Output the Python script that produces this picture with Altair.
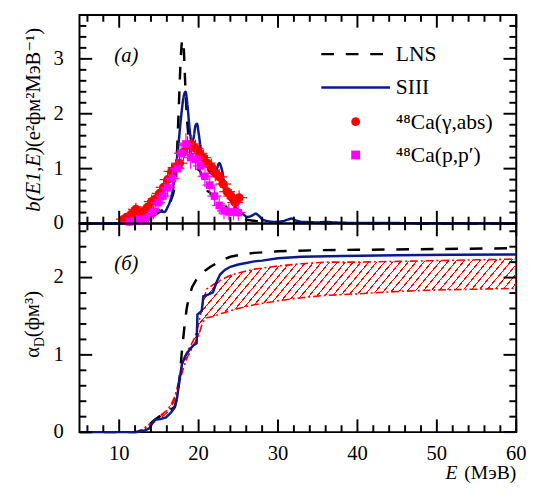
import math
import altair as alt
import pandas as pd

# ---------------- data : panel (a) strength functions ----------------
lns_a_E = [5, 10, 11, 12, 13, 14, 15, 15.5, 16, 16.5, 17, 17.25, 17.5, 17.75, 17.95, 18.1, 18.3, 18.5,
           18.75, 19.0, 19.4, 19.8, 20.2, 20.6, 21.0, 21.5, 22.0, 22.5, 23.0, 23.5, 24.0, 25.0, 26.0,
           27.0, 28.0, 30.0, 33.0, 40.0, 60.0]
lns_a_b = [0, 0, 0.01, 0.03, 0.07, 0.12, 0.2, 0.25, 0.3, 0.42, 0.7, 1.2, 2.1, 3.0, 3.35, 3.25, 2.6, 2.0,
           1.55, 1.25, 1.05, 1.0, 0.95, 0.78, 0.62, 0.55, 0.45, 0.4, 0.35, 0.3, 0.22, 0.12, 0.07,
           0.05, 0.03, 0.02, 0.01, 0.005, 0]

siii_a_E = [5, 10, 11, 12, 12.7, 13.5, 14.2, 14.8, 15.3, 15.7, 16.1, 16.5, 17.0, 17.4, 17.8, 18.1, 18.35,
            18.6, 18.85, 19.1, 19.35, 19.6, 19.8, 20.0, 20.3, 20.7, 21.1, 21.5, 21.9, 22.3, 22.6, 22.9,
            23.2, 23.6, 24.1, 24.6, 25.1, 25.6, 26.2, 26.8, 27.2, 27.6, 28.1, 28.8, 29.5, 30.5, 31.2,
            31.7, 32.2, 33.0, 34.0, 35.0, 36.0, 37.0, 38.0, 40.0, 45.0, 50.0, 60.0]
siii_a_b = [0, 0, 0.01, 0.03, 0.06, 0.12, 0.2, 0.25, 0.22, 0.21, 0.3, 0.45, 0.85, 1.35, 1.95, 2.3, 2.4,
            2.15, 1.75, 1.5, 1.55, 1.78, 1.82, 1.65, 1.35, 1.2, 1.05, 0.92, 0.9, 1.0, 1.1, 1.0,
            0.78, 0.55, 0.4, 0.3, 0.24, 0.17, 0.12, 0.15, 0.18, 0.14, 0.07, 0.04, 0.03, 0.04, 0.07,
            0.09, 0.06, 0.03, 0.025, 0.02, 0.03, 0.02, 0.015, 0.01, 0.008, 0.005, 0.002]

gam_E = [10.6, 11.1, 11.6, 12.1, 12.6, 13.1, 13.6, 14.1, 14.6, 15.1, 15.6, 16.1, 16.6, 17.1, 17.6,
         18.1, 18.6, 19.1, 19.6, 20.1, 20.6, 21.1, 21.6, 22.1, 22.6, 23.1, 23.6, 24.1, 24.6, 25.1]
gam_b = [0.08, 0.12, 0.18, 0.26, 0.2, 0.22, 0.3, 0.4, 0.45, 0.55, 0.66, 0.8, 0.95, 1.02, 1.1,
         1.3, 1.43, 1.45, 1.37, 1.28, 1.2, 1.1, 1.03, 0.92, 0.85, 0.72, 0.58, 0.5, 0.38, 0.47]
gam_dE = [1.0] * 30
gam_db = [0.1, 0.1, 0.12, 0.12, 0.12, 0.12, 0.13, 0.13, 0.14, 0.14, 0.15, 0.15, 0.15, 0.15, 0.15,
          0.16, 0.16, 0.16, 0.16, 0.15, 0.15, 0.15, 0.15, 0.15, 0.15, 0.14, 0.14, 0.13, 0.13, 0.13]

pp_E = [11.3, 11.9, 12.5, 13.1, 13.7, 14.3, 14.9, 15.5, 16.1, 16.7, 17.3, 17.8, 18.4, 19.0, 19.6,
        20.2, 20.8, 21.4, 22.0, 22.6, 23.2, 23.8, 24.4, 25.0]
pp_b = [0.03, 0.05, 0.07, 0.08, 0.12, 0.22, 0.38, 0.5, 0.65, 0.82, 1.0, 1.28, 1.45, 1.2, 1.17,
        1.05, 0.86, 0.7, 0.5, 0.33, 0.23, 0.21, 0.21, 0.2]
pp_dE = [0.9] * 24
pp_db = [0.08, 0.08, 0.1, 0.1, 0.12, 0.14, 0.15, 0.16, 0.17, 0.18, 0.2, 0.2, 0.2, 0.2, 0.2,
         0.2, 0.2, 0.18, 0.18, 0.16, 0.15, 0.15, 0.15, 0.15]

# ---------------- data : panel (б) polarizability ----------------
lns_b_E = [5, 12, 12.5, 13, 13.5, 14, 14.5, 15, 15.5, 16, 16.5, 17, 17.3, 17.6, 17.9, 18.2, 18.5, 18.8,
           19.2, 19.7, 20.2, 20.8, 21.5, 22.3, 23, 24, 25, 27, 30, 35, 40, 50, 60]
lns_b_a = [0, 0, 0.01, 0.04, 0.08, 0.12, 0.16, 0.2, 0.23, 0.26, 0.29, 0.33, 0.45, 0.7, 1.05, 1.35, 1.6,
           1.76, 1.88, 1.97, 2.03, 2.09, 2.14, 2.19, 2.23, 2.27, 2.29, 2.32, 2.34, 2.355, 2.36, 2.37, 2.38]

siii_b_E = [5, 12.3, 13.2, 13.8, 14.2, 14.5, 15.2, 15.9, 16.5, 17.0, 17.3, 17.6, 17.9, 18.3, 18.8, 19.3,
            19.75, 19.85, 20.4, 20.6, 21.2, 21.8, 22.3, 22.7, 23.3, 24, 25, 26, 27, 28, 30, 33, 38,
            45, 52, 60]
siii_b_a = [0, 0, 0.02, 0.05, 0.12, 0.16, 0.17, 0.19, 0.25, 0.32, 0.45, 0.68, 0.88, 0.98, 1.06, 1.12,
            1.15, 1.52, 1.57, 1.76, 1.78, 1.81, 1.95, 2.04, 2.1, 2.14, 2.17, 2.19, 2.21, 2.22, 2.25, 2.27,
            2.28, 2.29, 2.295, 2.3]

band_E = [10, 11, 12, 12.5, 13, 14, 15, 16, 16.5, 17, 17.5, 18, 18.5, 19, 19.5, 20, 20.5, 21, 22, 23,
          24, 25, 27, 30, 33, 36, 40, 45, 50, 55, 60]
band_lo = [0, 0, 0, 0.01, 0.03, 0.1, 0.17, 0.25, 0.32, 0.42, 0.6, 0.8, 0.95, 1.05, 1.15, 1.25, 1.42,
           1.48, 1.5, 1.54, 1.57, 1.6, 1.65, 1.7, 1.74, 1.77, 1.79, 1.82, 1.84, 1.85, 1.86]
band_hi = [0, 0, 0, 0.01, 0.04, 0.12, 0.2, 0.28, 0.35, 0.46, 0.65, 0.88, 1.03, 1.12, 1.22, 1.4, 1.65,
           1.85, 1.92, 1.98, 2.03, 2.06, 2.11, 2.15, 2.18, 2.2, 2.2, 2.21, 2.22, 2.23, 2.24]

# ---------------- labels & ticks ----------------
model_names = ["LNS", "SIII"]
exp_names = ["\u2074\u2078Ca(\u03b3,abs)", "\u2074\u2078Ca(p,p\u2032)"]
panel_tags = ["(a)", "(б)"]
tag_E = [10.9, 10.9]
tag_y = [3.05, 2.18]
x_title_parts = ["E", " (МэВ)"]
ya_title_parts = ["b(E1,E)", " (e\u00b2фм\u00b2МэВ\u207b\u00b9)"]
yb_title_parts = ["\u03b1", "D", "(фм\u00b3)"]

x_major = [10, 20, 30, 40, 50, 60]
x_minor = [v for v in range(6, 60, 2) if v % 10 != 0]
ya_major = [0, 1, 2, 3]
ya_minor = [round(0.2 * i, 1) for i in range(1, 19) if i % 5 != 0]
yb_major = [0, 1, 2]
yb_minor = [round(0.2 * i, 1) for i in range(1, 14) if i % 5 != 0]

# ---------------- style ----------------
FONT = "Liberation Serif, Times New Roman, DejaVu Serif, serif"
LFS = 21      # tick labels / titles
GFS = 22      # legend labels
W, H = 446, 213
MAJ, MIN = 13, 7
BLUE = "#0a1a8c"
RED = "#ff0000"
MAG = "#ff00ff"
DASH = [13, 12]

xscale = alt.Scale(domain=[5, 60], nice=False, zero=False)
ya_scale = alt.Scale(domain=[0, 3.8], nice=False, zero=False)
yb_scale = alt.Scale(domain=[0, 2.7], nice=False, zero=False)

XS = lambda f="E": alt.X(f, type="quantitative", scale=xscale, axis=None)
YA = lambda f="b": alt.Y(f, type="quantitative", scale=ya_scale, axis=None)
YB = lambda f: alt.Y(f, type="quantitative", scale=yb_scale, axis=None)


def ticks(Yf, ymaj, ymin):
    out = []
    for vals, L in [(x_major, MAJ), (x_minor, MIN)]:
        d = alt.Chart(pd.DataFrame({"v": vals})).mark_rule(color="black", strokeWidth=2)
        out.append(d.encode(x=XS("v"), y=alt.value(H), y2=alt.value(H - L)))
        out.append(d.encode(x=XS("v"), y=alt.value(0), y2=alt.value(L)))
    for vals, L in [(ymaj, MAJ), (ymin, MIN)]:
        d = alt.Chart(pd.DataFrame({"v": vals})).mark_rule(color="black", strokeWidth=2)
        out.append(d.encode(y=Yf("v"), x=alt.value(0), x2=alt.value(L)))
        out.append(d.encode(y=Yf("v"), x=alt.value(W), x2=alt.value(W - L)))
    return out


def ylabels(Yf, vals):
    d = pd.DataFrame({"v": vals, "t": [str(v) for v in vals]})
    return alt.Chart(d).mark_text(font=FONT, fontSize=LFS, align="right", baseline="middle",
                                  color="black").encode(y=Yf("v"), x=alt.value(-16), text="t:N")


def note(text, x, y, **kw):
    d = pd.DataFrame({"t": [text]})
    style = dict(font=FONT, fontSize=LFS, color="black", baseline="alphabetic")
    style.update(kw)
    return alt.Chart(d).mark_text(**style).encode(x=alt.value(x), y=alt.value(y), text="t:N")


# ---------------- panel (a) ----------------
df_lines_a = pd.concat([
    pd.DataFrame({"E": lns_a_E, "b": lns_a_b, "model": model_names[0]}),
    pd.DataFrame({"E": siii_a_E, "b": siii_a_b, "model": model_names[1]}),
])

LEG = dict(orient="none", title=None, symbolSize=81, rowPadding=12, padding=0, legendX=271,
           labelOffset=30, labelFont=FONT, labelFontSize=GFS, labelColor="black")
leg_lines = alt.Legend(legendY=29, symbolType="M-7.8,0H7.8", symbolStrokeWidth=2.5, **LEG)
leg_pts = alt.Legend(legendY=98, symbolStrokeWidth=0, **LEG)

lines_a = alt.Chart(df_lines_a).mark_line(strokeWidth=2.5, interpolate="monotone").encode(
    x=XS(), y=YA(),
    stroke=alt.Stroke("model:N", scale=alt.Scale(domain=model_names, range=["black", BLUE]),
                      legend=leg_lines),
    strokeDash=alt.StrokeDash("model:N", scale=alt.Scale(domain=model_names, range=[DASH, [1, 0]]),
                              legend=leg_lines),
)

exp_color = alt.Scale(domain=exp_names, range=[RED, MAG])
exp_shape = alt.Scale(domain=exp_names, range=["circle", "square"])

layers_a = []
for name, E, b, dE, db, col, size in [(exp_names[0], gam_E, gam_b, gam_dE, gam_db, RED, 85),
                                      (exp_names[1], pp_E, pp_b, pp_dE, pp_db, MAG, 60)]:
    d = pd.DataFrame({"E": E, "b": b, "src": name})
    d["E0"] = [e - w for e, w in zip(E, dE)]
    d["E1"] = [e + w for e, w in zip(E, dE)]
    d["b0"] = [v - w for v, w in zip(b, db)]
    d["b1"] = [v + w for v, w in zip(b, db)]
    base = alt.Chart(d)
    layers_a.append(base.mark_rule(strokeWidth=1.2, color=col).encode(x=XS("E0"), x2="E1", y=YA("b")))
    layers_a.append(base.mark_rule(strokeWidth=1.2, color=col).encode(x=XS("E"), y=YA("b0"), y2="b1"))
    layers_a.append(base.mark_point(filled=True, opacity=1, size=size).encode(
        x=XS("E"), y=YA("b"),
        color=alt.Color("src:N", scale=exp_color, legend=leg_pts),
        shape=alt.Shape("src:N", scale=exp_shape, legend=leg_pts)))

tag_a = alt.Chart(pd.DataFrame({"E": [tag_E[0]], "v": [tag_y[0]], "t": [panel_tags[0]]})).mark_text(
    font=FONT, fontSize=21, fontStyle="italic", color="black").encode(x=XS(), y=YA("v"), text="t:N")

titles_a = [
    note(ya_title_parts[0], -40, 135, angle=270, align="right", fontStyle="italic"),
    note(ya_title_parts[1], -40, 135, angle=270, align="left"),
]

top = alt.layer(
    lines_a, *layers_a, tag_a, *ticks(YA, ya_major, ya_minor), ylabels(YA, ya_major), *titles_a
).properties(width=W, height=H)

# ---------------- panel (б) ----------------
df_band = pd.DataFrame({"E": band_E, "lo": band_lo, "hi": band_hi})
df_lns_b = pd.DataFrame({"E": lns_b_E, "a": lns_b_a})
df_siii_b = pd.DataFrame({"E": siii_b_E, "a": siii_b_a})

# diagonal hatching, drawn as a striped linear gradient
band_w_px = (60 - 10) / 55 * W
band_h_px = max(band_hi) / 2.7 * H
r = math.tan(math.radians(50)) * band_w_px / band_h_px
a = (1 + 1 / r) / (1 + 1 / r ** 2)
N = int(round(band_w_px * (1 + 1 / r) / 8.0))
f = 0.17
stops = []
for i in range(N):
    s = i / N
    stops += [alt.GradientStop(color=RED, offset=s),
              alt.GradientStop(color=RED, offset=s + f / N),
              alt.GradientStop(color="rgba(255,255,255,0)", offset=s + f / N),
              alt.GradientStop(color="rgba(255,255,255,0)", offset=(i + 1) / N)]
hatch = alt.LinearGradient(gradient="linear", stops=stops, x1=0, y1=0, x2=a, y2=a / r)

band = alt.Chart(df_band).mark_area(color=hatch, opacity=1).encode(x=XS(), y=YB("lo"), y2="hi")
band_lo_line = alt.Chart(df_band).mark_line(color=RED, strokeWidth=1.6, strokeDash=[8, 3, 2, 3]).encode(
    x=XS(), y=YB("lo"))
band_hi_line = alt.Chart(df_band).mark_line(color=RED, strokeWidth=1.6, strokeDash=[8, 3, 2, 3]).encode(
    x=XS(), y=YB("hi"))
lns_b = alt.Chart(df_lns_b).mark_line(color="black", strokeWidth=2.5, strokeDash=DASH).encode(
    x=XS(), y=YB("a"))
siii_b = alt.Chart(df_siii_b).mark_line(color=BLUE, strokeWidth=2.5).encode(x=XS(), y=YB("a"))
tag_b = alt.Chart(pd.DataFrame({"E": [tag_E[1]], "v": [tag_y[1]], "t": [panel_tags[1]]})).mark_text(
    font=FONT, fontSize=21, fontStyle="italic", color="black").encode(x=XS(), y=YB("v"), text="t:N")

xlab = pd.DataFrame({"v": x_major, "t": [str(v) for v in x_major]})
xlabels = alt.Chart(xlab).mark_text(font=FONT, fontSize=LFS, align="center", baseline="alphabetic",
                                    color="black").encode(x=XS("v"), y=alt.value(H + 28), text="t:N")
titles_b = [
    note(yb_title_parts[0], -41, 126, angle=270, align="right"),
    note(yb_title_parts[1], -36, 126, angle=270, align="left", fontSize=14),
    note(yb_title_parts[2], -41, 116, angle=270, align="left"),
    note(x_title_parts[0], W - 60, H + 48, align="right", fontStyle="italic", fontSize=20),
    note(x_title_parts[1], W, H + 48, align="right", fontSize=20),
]

bottom = alt.layer(
    band, band_lo_line, band_hi_line, lns_b, siii_b, tag_b, *ticks(YB, yb_major, yb_minor),
    ylabels(YB, yb_major), xlabels, *titles_b
).properties(width=W, height=H)

chart = alt.vconcat(top, bottom, spacing=0, bounds="flush").properties(
    padding={"left": 14, "top": 0, "right": 0, "bottom": 0}
).configure_view(stroke="black", strokeWidth=2)

chart.save("out.html", embed_options={"renderer": "svg", "actions": False})
